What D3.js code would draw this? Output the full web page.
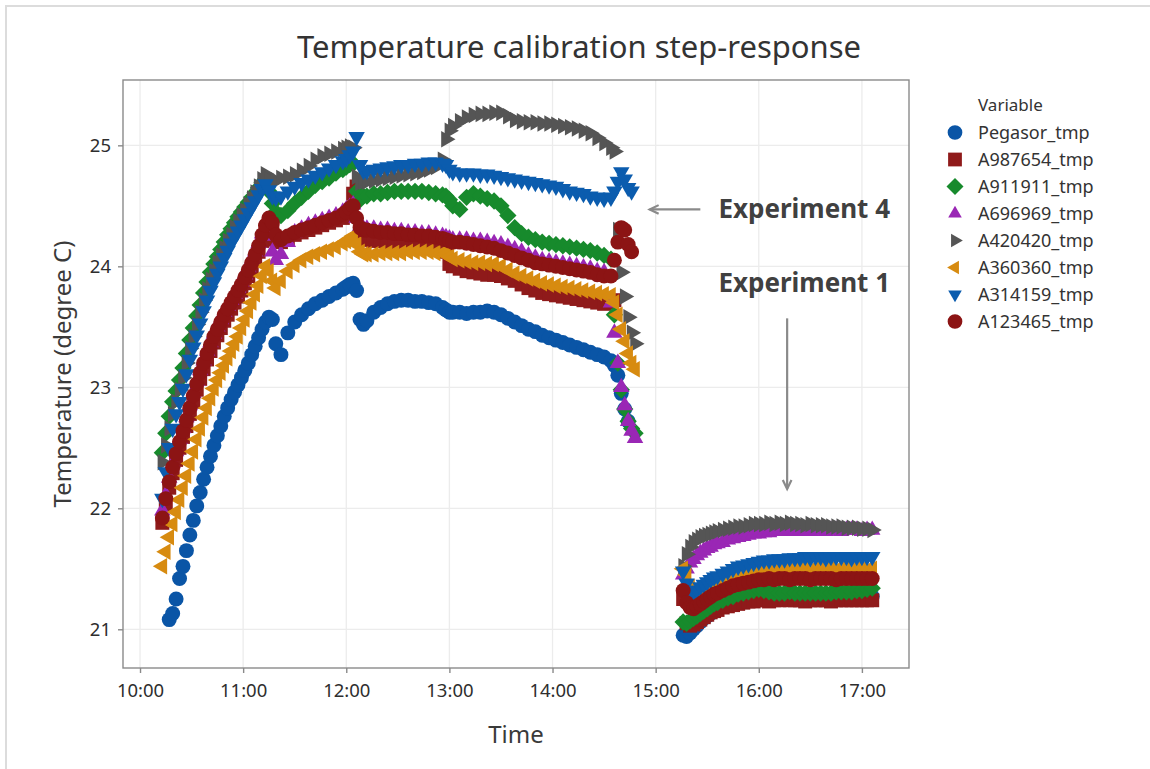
<!DOCTYPE html>
<html>
<head>
<meta charset="utf-8">
<script src="https://cdn.jsdelivr.net/npm/d3@7"></script>
<style>
  html, body { margin: 0; padding: 0; background: #ffffff; }
  svg { display: block; }
  text { font-family: "Noto Sans", "Open Sans", sans-serif; }
</style>
</head>
<body>
<svg id="chart" width="1150" height="769"></svg>
<script>
// ---------------- DATA (minutes after 10:00) ----------------
const timesExp4 = [13,15,17,19,21,23,25,27,29,31,33,35,37,39,41,43,45,47,49,51,53,55,57,59,61,63,65,67,69,71,73,75,77,79,
  82,86,90,94,98,102,106,110,114,118,
  120,122,124,126,128,130,132,
  136,140,144,148,152,156,160,164,168,172,176,
  178,180,182,
  186,190,194,198,202,206,210,214,218,222,226,230,234,238,242,246,250,254,258,262,266,270,274,
  276,278,280,282,284,286,288];

const timesExp1 = [316,318,320,322,324,326,328,330,332,334,336,
  339,342,345,348,351,354,357,360,363,366,369,372,375,378,381,384,387,390,393,396,399,402,405,408,411,414,417,420,423,426];

const seriesNames = ["Pegasor_tmp","A987654_tmp","A911911_tmp","A696969_tmp","A420420_tmp","A360360_tmp","A314159_tmp","A123465_tmp"];

const pegasorExp4 = [null,null,21.08,21.13,21.25,21.42,21.52,21.65,21.78,21.90,22.02,22.13,22.24,22.34,22.43,22.52,22.60,22.68,22.76,22.83,22.90,22.96,23.02,23.08,23.14,23.20,23.27,23.34,23.41,23.48,23.54,23.58,23.56,23.36,
  23.27,23.45,23.54,23.60,23.65,23.69,23.72,23.75,23.78,23.81,
  23.83,23.85,23.86,23.80,23.56,23.52,23.55,
  23.62,23.66,23.69,23.71,23.72,23.72,23.71,23.71,23.70,23.69,23.66,
  23.64,23.62,23.62,
  23.62,23.61,23.62,23.62,23.63,23.62,23.60,23.57,23.54,23.51,23.48,23.46,23.43,23.41,23.39,23.37,23.35,23.33,23.31,23.29,23.27,23.25,23.22,
  23.18,23.10,22.95,22.82,22.72,null,null];

const a987654Exp4 = [21.88,22.03,22.17,22.29,22.40,22.50,22.59,22.68,22.78,22.88,22.98,23.07,23.15,23.23,23.30,23.37,23.43,23.49,23.55,23.60,23.65,23.70,23.75,23.80,23.86,23.92,23.98,24.05,24.12,24.21,24.30,24.36,24.30,24.22,
  24.20,24.23,24.26,24.28,24.30,24.32,24.34,24.36,24.38,24.40,
  24.42,24.45,24.60,24.66,24.25,24.22,24.22,
  24.21,24.21,24.20,24.20,24.19,24.19,24.18,24.18,24.17,24.17,24.16,
  24.12,24.02,24.00,
  23.98,23.96,23.95,23.94,23.93,23.93,23.92,23.90,23.88,23.85,23.82,23.80,23.78,23.77,23.76,23.75,23.74,23.73,23.72,23.71,23.70,23.69,23.70,
  23.72,null,null,null,null,null,null];

const a911911Exp4 = [22.46,22.62,22.76,22.88,22.97,23.06,23.16,23.28,23.39,23.49,23.59,23.68,23.78,23.87,23.95,24.02,24.08,24.14,24.20,24.26,24.31,24.36,24.41,24.45,24.49,24.53,24.57,24.61,24.65,24.69,24.72,24.62,24.52,24.45,
  24.42,24.46,24.52,24.57,24.62,24.67,24.70,24.73,24.77,24.80,
  24.82,24.84,24.85,24.62,24.55,24.58,24.58,
  24.60,24.60,24.61,24.62,24.62,24.62,24.62,24.62,24.61,24.60,24.59,
  24.58,24.55,24.50,
  24.47,24.57,24.60,24.58,24.56,24.54,24.50,24.42,24.32,24.27,24.24,24.22,24.20,24.19,24.18,24.17,24.16,24.15,24.14,24.13,24.11,24.09,24.06,
  23.60,23.20,22.98,22.82,22.72,22.66,22.62];

const a696969Exp4 = [21.98,22.11,22.25,22.37,22.47,22.57,22.66,22.75,22.85,22.95,23.05,23.14,23.22,23.30,23.37,23.44,23.50,23.56,23.62,23.67,23.72,23.77,23.82,23.87,23.93,23.99,24.05,24.12,24.19,24.27,24.31,24.25,24.12,24.05,
  24.10,24.20,24.28,24.31,24.34,24.36,24.38,24.40,24.42,24.45,
  24.47,24.49,24.51,24.40,24.33,24.31,24.31,
  24.31,24.30,24.30,24.29,24.29,24.28,24.28,24.27,24.27,24.26,24.25,
  24.24,24.23,24.22,
  24.22,24.22,24.21,24.21,24.20,24.19,24.18,24.16,24.14,24.12,24.09,24.07,24.05,24.04,24.03,24.02,24.01,24.00,23.99,23.98,23.96,23.95,23.70,
  23.45,23.20,23.00,22.85,22.72,22.64,22.58];

const a420420Exp4 = [22.38,22.52,22.66,22.78,22.88,22.98,23.08,23.20,23.32,23.42,23.52,23.62,23.72,23.81,23.89,23.96,24.03,24.09,24.15,24.21,24.26,24.32,24.37,24.42,24.46,24.51,24.56,24.61,24.66,24.72,24.76,24.72,24.70,24.71,
  24.73,24.74,24.76,24.79,24.83,24.88,24.91,24.93,24.95,24.97,
  24.98,24.99,24.98,24.74,24.69,24.70,24.70,
  24.71,24.72,24.73,24.74,24.75,24.76,24.77,24.78,24.80,24.82,24.88,
  25.05,25.12,25.16,
  25.20,25.23,25.25,25.26,25.26,25.27,25.27,25.24,25.21,25.20,25.19,25.19,25.18,25.18,25.17,25.16,25.15,25.14,25.12,25.10,25.06,25.02,24.98,
  24.95,24.30,23.95,23.75,23.58,23.45,23.36];

const a360360Exp4 = [21.52,21.64,21.76,21.87,21.97,22.07,22.17,22.27,22.37,22.47,22.57,22.66,22.75,22.83,22.91,22.99,23.06,23.12,23.18,23.24,23.30,23.36,23.42,23.49,23.56,23.63,23.70,23.77,23.84,23.92,24.00,23.96,23.88,23.82,
  23.88,23.96,24.01,24.05,24.08,24.10,24.12,24.14,24.16,24.19,
  24.21,24.23,24.25,24.18,24.12,24.10,24.10,
  24.10,24.11,24.11,24.11,24.11,24.12,24.12,24.12,24.12,24.11,24.11,
  24.10,24.08,24.06,
  24.05,24.04,24.03,24.03,24.02,24.02,24.00,23.97,23.94,23.92,23.90,23.88,23.86,23.85,23.84,23.83,23.82,23.81,23.80,23.79,23.78,23.77,23.76,
  23.70,23.60,23.48,23.38,23.28,23.20,23.15];

const a314159Exp4 = [22.08,22.30,22.50,22.66,22.78,22.88,22.99,23.11,23.23,23.33,23.43,23.53,23.63,23.72,23.80,23.87,23.94,24.00,24.07,24.13,24.19,24.24,24.29,24.34,24.39,24.44,24.49,24.54,24.59,24.64,24.68,24.63,24.58,24.57,
  24.58,24.62,24.66,24.69,24.72,24.75,24.78,24.81,24.84,24.87,
  24.89,24.92,24.95,25.07,24.84,24.79,24.79,
  24.80,24.81,24.82,24.83,24.84,24.84,24.85,24.85,24.86,24.86,24.85,
  24.84,24.80,24.78,
  24.77,24.77,24.77,24.76,24.76,24.75,24.74,24.73,24.72,24.71,24.70,24.69,24.68,24.67,24.66,24.64,24.62,24.61,24.60,24.58,24.57,24.56,24.57,
  24.62,24.70,24.78,24.72,24.65,24.62,null];

const a123465Exp4 = [21.92,22.08,22.22,22.34,22.45,22.55,22.64,22.73,22.83,22.93,23.03,23.12,23.20,23.28,23.35,23.42,23.48,23.54,23.60,23.65,23.70,23.75,23.80,23.85,23.91,23.97,24.03,24.10,24.17,24.26,24.34,24.40,24.36,24.26,
  24.22,24.25,24.28,24.30,24.32,24.34,24.36,24.38,24.40,24.43,
  24.45,24.48,24.50,24.40,24.32,24.30,24.30,
  24.29,24.28,24.28,24.27,24.27,24.26,24.26,24.25,24.25,24.24,24.23,
  24.22,24.21,24.20,
  24.20,24.19,24.18,24.17,24.16,24.15,24.13,24.11,24.09,24.07,24.05,24.03,24.02,24.01,24.00,23.99,23.98,23.97,23.96,23.95,23.93,23.92,23.92,
  24.05,24.20,24.32,24.30,24.18,24.12,null];

const pegasorExp1 = [20.95,20.94,20.97,21.00,21.03,21.06,21.09,21.11,21.13,21.15,21.17,
  21.19,21.21,21.23,21.24,21.25,21.26,21.26,21.27,21.27,21.27,21.27,21.27,21.27,21.27,21.27,21.27,21.27,21.27,21.27,21.27,21.27,21.27,21.27,21.27,21.27,21.27,21.27,21.27,21.27,21.27];
const a987654Exp1 = [21.25,21.05,21.03,21.04,21.06,21.08,21.10,21.12,21.14,21.15,21.16,
  21.18,21.19,21.20,21.21,21.22,21.23,21.23,21.24,21.24,21.23,21.24,21.24,21.25,21.24,21.24,21.24,21.23,21.24,21.24,21.24,21.24,21.23,21.24,21.24,21.24,21.24,21.24,21.24,21.24,21.24];
const a911911Exp1 = [21.06,21.05,21.07,21.09,21.11,21.13,21.15,21.17,21.19,21.21,21.22,
  21.24,21.26,21.27,21.29,21.30,21.31,21.32,21.33,21.32,21.31,21.30,21.30,21.30,21.31,21.30,21.30,21.30,21.30,21.30,21.30,21.30,21.30,21.31,21.31,21.31,21.31,21.32,21.32,21.33,21.34];
const a696969Exp1 = [21.45,21.50,21.55,21.58,21.61,21.63,21.65,21.67,21.68,21.70,21.71,
  21.72,21.74,21.75,21.76,21.77,21.78,21.79,21.79,21.80,21.80,21.81,21.81,21.81,21.82,21.81,21.82,21.81,21.81,21.82,21.82,21.81,21.82,21.82,21.81,21.82,21.82,21.82,21.81,21.82,21.82];
const a420420Exp1 = [21.52,21.62,21.68,21.72,21.74,21.76,21.77,21.78,21.79,21.80,21.81,
  21.82,21.83,21.84,21.85,21.85,21.86,21.87,21.87,21.87,21.88,21.87,21.88,21.87,21.88,21.87,21.87,21.86,21.87,21.86,21.86,21.86,21.85,21.85,21.85,21.84,21.84,21.84,21.83,21.83,21.82];
const a360360Exp1 = [21.50,21.45,21.35,21.30,21.30,21.32,21.34,21.36,21.38,21.40,21.41,
  21.42,21.43,21.44,21.45,21.46,21.47,21.48,21.49,21.49,21.50,21.49,21.50,21.50,21.49,21.50,21.50,21.50,21.49,21.50,21.50,21.50,21.50,21.49,21.50,21.50,21.50,21.50,21.50,21.49,21.50];
const a314159Exp1 = [21.48,21.38,21.32,21.30,21.32,21.35,21.37,21.39,21.41,21.43,21.44,
  21.46,21.48,21.50,21.52,21.53,21.54,21.55,21.56,21.57,21.57,21.58,21.58,21.58,21.59,21.59,21.59,21.60,21.59,21.60,21.60,21.59,21.60,21.60,21.60,21.60,21.59,21.60,21.60,21.60,21.60];
const a123465Exp1 = [21.32,21.22,21.18,21.17,21.19,21.21,21.23,21.25,21.27,21.29,21.30,
  21.32,21.34,21.36,21.37,21.38,21.39,21.40,21.41,21.41,21.42,21.41,21.42,21.42,21.41,21.42,21.42,21.42,21.41,21.42,21.42,21.42,21.42,21.41,21.42,21.42,21.42,21.42,21.42,21.42,21.42];

const xTickLabels = ["10:00","11:00","12:00","13:00","14:00","15:00","16:00","17:00"];
const yTickValues = [21, 22, 23, 24, 25];

// annotations (minute, value) positions
const annotLabels = ["Experiment 4", "Experiment 1"];
const annotTextPos = [[336.5, 24.47], [336.5, 23.86]];
const annotArrows = [[[326, 24.47], [296.5, 24.47]], [[376.5, 23.57], [376.5, 22.16]]];

// ---------------- STYLE ----------------
const colors = ["#0a55a6","#8f1a1a","#178a2c","#9a27b5","#555555","#d78b10","#0b5cae","#8c1414"];
const shapes = ["circle","square","diamond","triUp","triRight","triLeft","triDown","circle"];

const exp4Vals = [pegasorExp4,a987654Exp4,a911911Exp4,a696969Exp4,a420420Exp4,a360360Exp4,a314159Exp4,a123465Exp4];
const exp1Vals = [pegasorExp1,a987654Exp1,a911911Exp1,a696969Exp1,a420420Exp1,a360360Exp1,a314159Exp1,a123465Exp1];

const base = new Date(2020, 0, 1, 10, 0, 0).getTime();
const toDate = m => new Date(base + m * 60000);

const series = seriesNames.map((name, i) => {
  const pts = [];
  timesExp4.forEach((t, j) => { if (exp4Vals[i][j] != null) pts.push({t: toDate(t), v: exp4Vals[i][j]}); });
  timesExp1.forEach((t, j) => { if (exp1Vals[i][j] != null) pts.push({t: toDate(t), v: exp1Vals[i][j]}); });
  return {name, color: colors[i], shape: shapes[i], pts};
});

// ---------------- LAYOUT ----------------
const svg = d3.select("#chart");
const P = {left: 123, right: 909, top: 80, bottom: 668};

const x = d3.scaleTime().domain([toDate(-9.9), toDate(447.4)]).range([P.left, P.right]);
const y = d3.scaleLinear().domain([20.68, 25.54]).range([P.bottom, P.top]);

// outer frame lines
svg.append("line").attr("x1", 5).attr("x2", 1150).attr("y1", 6).attr("y2", 6).attr("stroke", "#dcdcdc").attr("stroke-width", 2);
svg.append("line").attr("x1", 6).attr("x2", 6).attr("y1", 5).attr("y2", 769).attr("stroke", "#dcdcdc").attr("stroke-width", 2);

// grid
const xTicks = xTickLabels.map((s, i) => toDate(i * 60));
const g = svg.append("g");
g.selectAll(".vg").data(xTicks).enter().append("line")
  .attr("x1", d => x(d)).attr("x2", d => x(d)).attr("y1", P.top).attr("y2", P.bottom)
  .attr("stroke", "#ececec").attr("stroke-width", 1.3);
g.selectAll(".hg").data(yTickValues).enter().append("line")
  .attr("x1", P.left).attr("x2", P.right).attr("y1", d => y(d)).attr("y2", d => y(d))
  .attr("stroke", "#ececec").attr("stroke-width", 1.3);

// symbols
const tri = d3.symbol().type(d3.symbolTriangle).size(118)();
const symPath = {
  circle: d3.symbol().type(d3.symbolCircle).size(175)(),
  square: d3.symbol().type(d3.symbolSquare).size(195)(),
  diamond: d3.symbol().type(d3.symbolSquare).size(150)(),
  triUp: tri, triRight: tri, triLeft: tri, triDown: tri
};
const symRot = {circle: 0, square: 0, diamond: 45, triUp: 0, triRight: 90, triLeft: -90, triDown: 180};

const pointsG = svg.append("g");
series.forEach(s => {
  pointsG.append("g").selectAll("path").data(s.pts).enter().append("path")
    .attr("d", symPath[s.shape])
    .attr("transform", d => `translate(${x(d.t)},${y(d.v)}) rotate(${symRot[s.shape]})`)
    .attr("fill", s.color);
});

// panel border
svg.append("rect").attr("x", P.left).attr("y", P.top).attr("width", P.right - P.left).attr("height", P.bottom - P.top)
  .attr("fill", "none").attr("stroke", "#8a8a8a").attr("stroke-width", 1.4);

// axes
const xAxis = d3.axisBottom(x).tickValues(xTicks).tickFormat((d, i) => xTickLabels[i]).tickSize(5).tickPadding(11);
const yAxis = d3.axisLeft(y).tickValues(yTickValues).tickFormat(d3.format("d")).tickSize(5).tickPadding(7);
const xa = svg.append("g").attr("transform", `translate(0,${P.bottom})`).call(xAxis);
const ya = svg.append("g").attr("transform", `translate(${P.left},0)`).call(yAxis);
[xa, ya].forEach(a => {
  a.select(".domain").remove();
  a.selectAll(".tick line").attr("stroke", "#8a8a8a").attr("stroke-width", 1.4);
  a.selectAll(".tick text").attr("fill", "#2e2e2e").style("font-size", "18.5px").style("font-family", "'Noto Sans', sans-serif");
});

// titles
svg.append("text").attr("x", 579).attr("y", 58).attr("text-anchor", "middle")
  .style("font-size", "31px").attr("fill", "#333333").text("Temperature calibration step-response");
svg.append("text").attr("x", (P.left + P.right) / 2).attr("y", 743).attr("text-anchor", "middle")
  .style("font-size", "24px").attr("fill", "#3a3a3a").text("Time");
svg.append("text").attr("transform", `translate(70.5,${(P.top + P.bottom) / 2}) rotate(-90)`).attr("text-anchor", "middle")
  .style("font-size", "24px").attr("fill", "#3a3a3a").text("Temperature (degree C)");

// legend
const legSym = {
  circle: d3.symbol().type(d3.symbolCircle).size(170)(),
  square: d3.symbol().type(d3.symbolSquare).size(190)(),
  diamond: d3.symbol().type(d3.symbolSquare).size(145)(),
  tri: d3.symbol().type(d3.symbolTriangle).size(80)()
};
const lg = svg.append("g");
lg.append("text").attr("x", 978).attr("y", 111).style("font-size", "17px").attr("fill", "#333").text("Variable");
series.forEach((s, i) => {
  const yy = 132.5 + i * 27.0;
  const p = s.shape.startsWith("tri") ? legSym.tri : legSym[s.shape];
  lg.append("path").attr("d", p)
    .attr("transform", `translate(955,${yy}) rotate(${symRot[s.shape]})`).attr("fill", s.color);
  lg.append("text").attr("x", 978).attr("y", yy + 6.5).style("font-size", "18px").attr("fill", "#333").text(s.name);
});

// annotations
const ann = svg.append("g");
annotLabels.forEach((lab, i) => {
  ann.append("text").attr("x", x(toDate(annotTextPos[i][0]))).attr("y", y(annotTextPos[i][1]) + 9)
    .style("font-size", "26px").style("font-weight", "bold").attr("fill", "#404040").text(lab);
  const [a, b] = annotArrows[i];
  const x1 = x(toDate(a[0])), y1 = y(a[1]), x2 = x(toDate(b[0])), y2 = y(b[1]);
  ann.append("line").attr("x1", x1).attr("y1", y1).attr("x2", x2).attr("y2", y2)
    .attr("stroke", "#8a8a8a").attr("stroke-width", 2.2);
  const ang = Math.atan2(y2 - y1, x2 - x1);
  const L = 10, w = Math.PI / 7;
  const p1 = [x2 - L * Math.cos(ang - w), y2 - L * Math.sin(ang - w)];
  const p2 = [x2 - L * Math.cos(ang + w), y2 - L * Math.sin(ang + w)];
  ann.append("path").attr("d", `M${p1[0]},${p1[1]} L${x2},${y2} L${p2[0]},${p2[1]}`)
    .attr("fill", "none").attr("stroke", "#8a8a8a").attr("stroke-width", 2.2);
});
</script>
</body>
</html>
